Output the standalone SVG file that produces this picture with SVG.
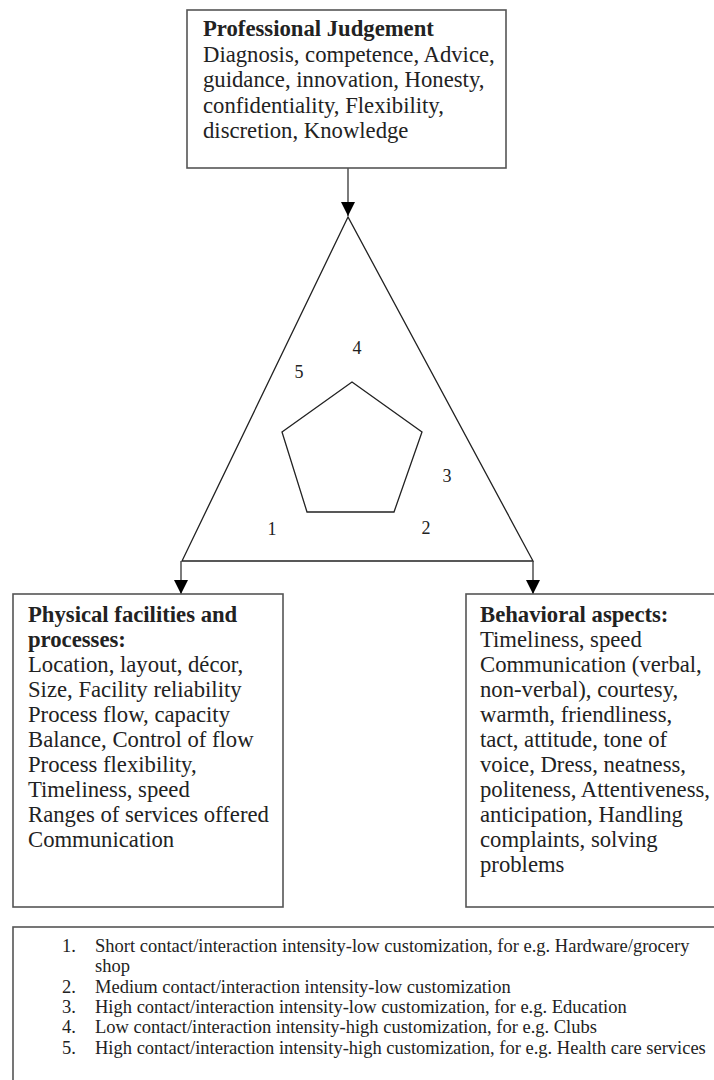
<svg xmlns="http://www.w3.org/2000/svg" width="714" height="1080" viewBox="0 0 714 1080">
<style>
.box{fill:#fff;stroke:#555;stroke-width:1.6}
.t{font-family:"Liberation Serif","Times New Roman",serif;font-size:22.7px;fill:#222}
.b{font-weight:bold}
.n{font-family:"Liberation Serif","Times New Roman",serif;font-size:18px;fill:#222}
.l{font-family:"Liberation Serif","Times New Roman",serif;font-size:18.5px;fill:#222}
.shape{fill:none;stroke:#222;stroke-width:1.3}
.conn{fill:none;stroke:#444;stroke-width:1.4}
</style>
<defs>
<marker id="ah" markerWidth="16" markerHeight="14" refX="14" refY="7" orient="auto" markerUnits="userSpaceOnUse">
<path d="M0,0 L14,7 L0,14 Z" fill="#000"/>
</marker>
</defs>
<g id="shapes">
<polygon class="shape" points="348,217 182,561 533,561"/>
<polygon class="shape" points="352,382 422,432 394,512 307,512 282,432"/>
<text class="n" x="357" y="354" text-anchor="middle">4</text>
<text class="n" x="299" y="378" text-anchor="middle">5</text>
<text class="n" x="447" y="482" text-anchor="middle">3</text>
<text class="n" x="272" y="535" text-anchor="middle">1</text>
<text class="n" x="426" y="534" text-anchor="middle">2</text>
</g>
<g id="connectors">
<line class="conn" x1="348" y1="168" x2="348" y2="216" marker-end="url(#ah)"/>
<line class="conn" x1="181" y1="561" x2="181" y2="594" marker-end="url(#ah)"/>
<line class="conn" x1="533" y1="561" x2="533" y2="594" marker-end="url(#ah)"/>
</g>
<g id="professional">
<rect class="box" x="187" y="10" width="319" height="158"/>
<text class="t b" x="203" y="36">Professional Judgement</text>
<text class="t" x="203" y="61.5">Diagnosis, competence, Advice,</text>
<text class="t" x="203" y="87">guidance, innovation, Honesty,</text>
<text class="t" x="203" y="112.5">confidentiality, Flexibility,</text>
<text class="t" x="203" y="138">discretion, Knowledge</text>
</g>
<g id="physical">
<rect class="box" x="13" y="594" width="270" height="313"/>
<text class="t b" x="28" y="622">Physical facilities and</text>
<text class="t b" x="28" y="647">processes:</text>
<text class="t" x="28" y="672">Location, layout, décor,</text>
<text class="t" x="28" y="697">Size, Facility reliability</text>
<text class="t" x="28" y="722">Process flow, capacity</text>
<text class="t" x="28" y="747">Balance, Control of flow</text>
<text class="t" x="28" y="772">Process flexibility,</text>
<text class="t" x="28" y="797">Timeliness, speed</text>
<text class="t" x="28" y="822">Ranges of services offered</text>
<text class="t" x="28" y="847">Communication</text>
</g>
<g id="behavioral">
<rect class="box" x="466" y="594" width="260" height="313"/>
<text class="t b" x="480" y="622">Behavioral aspects:</text>
<text class="t" x="480" y="647">Timeliness, speed</text>
<text class="t" x="480" y="672">Communication (verbal,</text>
<text class="t" x="480" y="697">non-verbal), courtesy,</text>
<text class="t" x="480" y="722">warmth, friendliness,</text>
<text class="t" x="480" y="747">tact, attitude, tone of</text>
<text class="t" x="480" y="772">voice, Dress, neatness,</text>
<text class="t" x="480" y="797">politeness, Attentiveness,</text>
<text class="t" x="480" y="822">anticipation, Handling</text>
<text class="t" x="480" y="847">complaints, solving</text>
<text class="t" x="480" y="872">problems</text>
</g>
<g id="legend">
<rect class="box" x="13" y="927" width="720" height="170"/>
<text class="l" x="62" y="952">1.</text>
<text class="l" x="95" y="952">Short contact/interaction intensity-low customization, for e.g. Hardware/grocery</text>
<text class="l" x="95" y="972">shop</text>
<text class="l" x="62" y="993">2.</text>
<text class="l" x="95" y="993">Medium contact/interaction intensity-low customization</text>
<text class="l" x="62" y="1013">3.</text>
<text class="l" x="95" y="1013">High contact/interaction intensity-low customization, for e.g. Education</text>
<text class="l" x="62" y="1033">4.</text>
<text class="l" x="95" y="1033">Low contact/interaction intensity-high customization, for e.g. Clubs</text>
<text class="l" x="62" y="1054">5.</text>
<text class="l" x="95" y="1054">High contact/interaction intensity-high customization, for e.g. Health care services</text>
</g>
</svg>
